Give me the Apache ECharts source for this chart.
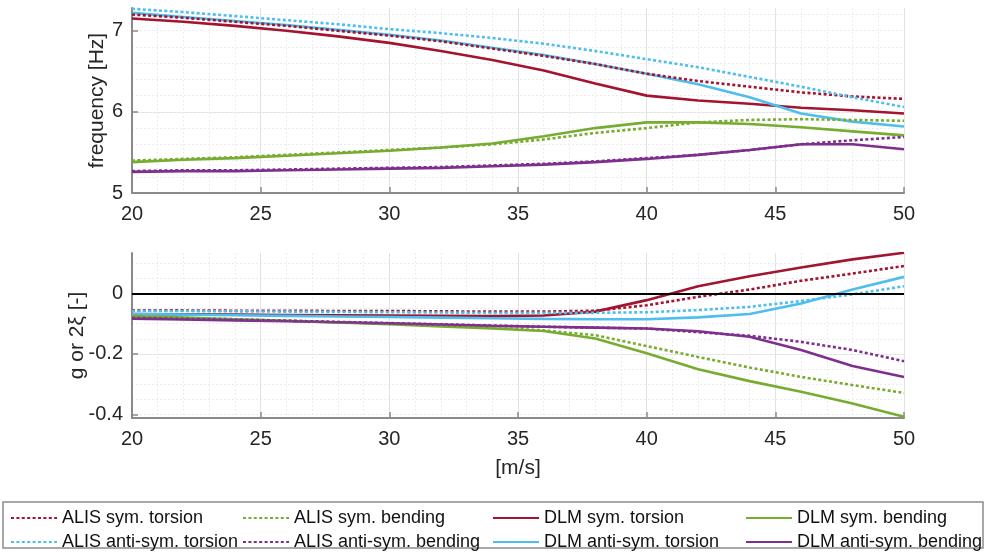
<!DOCTYPE html>
<html>
<head>
<meta charset="utf-8">
<script src="https://cdn.jsdelivr.net/npm/echarts@6/dist/echarts.min.js"></script>
<style>
  html, body { margin: 0; padding: 0; background: #ffffff; }
  #chart { width: 988px; height: 556px; }
</style>
</head>
<body>
<div id="chart"></div>
<script>
// Flight speed [m/s]
const speed = [20, 22, 24, 26, 28, 30, 32, 34, 36, 38, 40, 42, 44, 46, 48, 50];

// Frequency [Hz]
const freqAlisSymTorsion     = [7.20, 7.16, 7.11, 7.06, 7.00, 6.94, 6.87, 6.78, 6.69, 6.59, 6.47, 6.38, 6.31, 6.24, 6.19, 6.16];
const freqAlisAntiTorsion    = [7.27, 7.23, 7.18, 7.13, 7.08, 7.02, 6.97, 6.91, 6.84, 6.75, 6.65, 6.55, 6.43, 6.31, 6.18, 6.06];
const freqAlisSymBending     = [5.40, 5.42, 5.44, 5.47, 5.50, 5.53, 5.56, 5.60, 5.66, 5.74, 5.80, 5.87, 5.90, 5.91, 5.90, 5.89];
const freqAlisAntiBending    = [5.27, 5.28, 5.28, 5.29, 5.30, 5.31, 5.32, 5.34, 5.36, 5.39, 5.43, 5.47, 5.53, 5.60, 5.65, 5.69];
const freqDlmSymTorsion      = [7.15, 7.11, 7.06, 7.00, 6.93, 6.85, 6.75, 6.64, 6.51, 6.35, 6.20, 6.14, 6.10, 6.05, 6.02, 5.98];
const freqDlmAntiTorsion     = [7.22, 7.17, 7.12, 7.07, 7.01, 6.95, 6.88, 6.79, 6.70, 6.59, 6.47, 6.34, 6.18, 5.98, 5.88, 5.82];
const freqDlmSymBending      = [5.38, 5.41, 5.43, 5.46, 5.49, 5.52, 5.56, 5.61, 5.70, 5.80, 5.87, 5.87, 5.85, 5.81, 5.76, 5.71];
const freqDlmAntiBending     = [5.26, 5.27, 5.27, 5.28, 5.29, 5.30, 5.31, 5.33, 5.35, 5.38, 5.42, 5.47, 5.53, 5.60, 5.60, 5.54];

// Damping g or 2ξ [-]
const dampAlisSymTorsion     = [-0.056, -0.056, -0.057, -0.057, -0.058, -0.058, -0.059, -0.060, -0.060, -0.057, -0.039, -0.011, 0.013, 0.042, 0.066, 0.091];
const dampAlisAntiTorsion    = [-0.057, -0.058, -0.059, -0.060, -0.061, -0.062, -0.063, -0.064, -0.064, -0.064, -0.062, -0.055, -0.044, -0.025, -0.003, 0.024];
const dampAlisSymBending     = [-0.077, -0.081, -0.085, -0.090, -0.095, -0.100, -0.106, -0.113, -0.122, -0.138, -0.174, -0.210, -0.245, -0.276, -0.303, -0.329];
const dampAlisAntiBending    = [-0.081, -0.084, -0.087, -0.090, -0.094, -0.098, -0.102, -0.106, -0.110, -0.113, -0.116, -0.128, -0.140, -0.160, -0.187, -0.224];
const dampDlmSymTorsion      = [-0.068, -0.069, -0.070, -0.071, -0.072, -0.073, -0.074, -0.075, -0.073, -0.060, -0.022, 0.024, 0.057, 0.086, 0.113, 0.135];
const dampDlmAntiTorsion     = [-0.068, -0.070, -0.072, -0.074, -0.076, -0.078, -0.080, -0.082, -0.084, -0.085, -0.085, -0.079, -0.068, -0.033, 0.013, 0.055];
const dampDlmSymBending      = [-0.075, -0.080, -0.085, -0.090, -0.096, -0.102, -0.109, -0.116, -0.124, -0.149, -0.198, -0.251, -0.290, -0.325, -0.364, -0.408];
const dampDlmAntiBending     = [-0.083, -0.086, -0.089, -0.092, -0.095, -0.099, -0.103, -0.107, -0.110, -0.113, -0.116, -0.125, -0.143, -0.187, -0.240, -0.276];

// Axis tick labels
const speedTicks = [20, 25, 30, 35, 40, 45, 50];
const freqTicks = [5, 6, 7];
const dampTicks = [-0.4, -0.2, 0];

const names = [
  'ALIS sym. torsion', 'ALIS anti-sym. torsion',
  'ALIS sym. bending', 'ALIS anti-sym. bending',
  'DLM sym. torsion', 'DLM anti-sym. torsion',
  'DLM sym. bending', 'DLM anti-sym. bending'
];

const RED = '#A2142F', BLUE = '#4DBEEE', GREEN = '#77AC30', PURPLE = '#7E2F8E';
const FONT = 'Liberation Sans';
const AXIS_GRAY = '#8a8a8a';
const LABEL_COLOR = '#262626';

const curves = [
  { name: names[0], color: RED,    dotted: true,  freq: freqAlisSymTorsion,  damp: dampAlisSymTorsion },
  { name: names[1], color: BLUE,   dotted: true,  freq: freqAlisAntiTorsion, damp: dampAlisAntiTorsion },
  { name: names[2], color: GREEN,  dotted: true,  freq: freqAlisSymBending,  damp: dampAlisSymBending },
  { name: names[3], color: PURPLE, dotted: true,  freq: freqAlisAntiBending, damp: dampAlisAntiBending },
  { name: names[4], color: RED,    dotted: false, freq: freqDlmSymTorsion,   damp: dampDlmSymTorsion },
  { name: names[5], color: BLUE,   dotted: false, freq: freqDlmAntiTorsion,  damp: dampDlmAntiTorsion },
  { name: names[6], color: GREEN,  dotted: false, freq: freqDlmSymBending,   damp: dampDlmSymBending },
  { name: names[7], color: PURPLE, dotted: false, freq: freqDlmAntiBending,  damp: dampDlmAntiBending }
];

function pairs(values) {
  return speed.map((v, i) => [v, values[i]]);
}

function lineSeries(c, values, xi, yi) {
  return {
    type: 'line',
    name: c.name,
    xAxisIndex: xi,
    yAxisIndex: yi,
    data: pairs(values),
    symbol: 'none',
    smooth: false,
    clip: true,
    lineStyle: {
      color: c.color,
      width: 2.6,
      type: c.dotted ? [3, 2.4] : 'solid'
    },
    itemStyle: { color: c.color },
    z: c.dotted ? 3 : 2
  };
}

function xAxisDef(gridIndex) {
  return {
    type: 'value',
    gridIndex: gridIndex,
    min: 20,
    max: 50,
    interval: 5,
    axisLine: { show: true, onZero: false, lineStyle: { color: AXIS_GRAY, width: 2 } },
    axisTick: { show: true, inside: true, length: 6, lineStyle: { color: AXIS_GRAY, width: 1.5 } },
    axisLabel: { fontSize: 20, color: LABEL_COLOR, margin: 11, fontFamily: FONT },
    splitLine: { show: true, lineStyle: { color: '#e2e2e2', width: 1 } },
    minorTick: { show: false, splitNumber: 5 },
    minorSplitLine: { show: true, lineStyle: { color: '#ececec', width: 1, type: [2, 2] } }
  };
}

function mainYAxis(gridIndex, min, max, splitNumber, ticks, name, nameGap) {
  return {
    type: 'value',
    gridIndex: gridIndex,
    position: 'left',
    min: min,
    max: max,
    splitNumber: splitNumber,
    name: name,
    nameLocation: 'middle',
    nameGap: nameGap,
    nameRotate: 90,
    nameMoveOverlap: false,
    nameTextStyle: { fontSize: 21, color: LABEL_COLOR, fontFamily: FONT },
    axisLine: { show: true, onZero: false, lineStyle: { color: AXIS_GRAY, width: 2 } },
    axisTick: { show: true, inside: true, length: 6, customValues: ticks, lineStyle: { color: AXIS_GRAY, width: 1.5 } },
    axisLabel: { fontSize: 20, color: LABEL_COLOR, margin: 9, fontFamily: FONT, customValues: ticks },
    splitLine: { show: true, showMinLine: false, showMaxLine: false, lineStyle: { color: '#e2e2e2', width: 1 } }
  };
}

function minorYAxis(gridIndex, min, max, splitNumber) {
  return {
    type: 'value',
    gridIndex: gridIndex,
    position: 'left',
    min: min,
    max: max,
    splitNumber: splitNumber,
    axisLine: { show: false },
    axisTick: { show: false },
    axisLabel: { show: false },
    splitLine: { show: true, showMinLine: false, showMaxLine: false, lineStyle: { color: '#ececec', width: 1, type: [2, 2] } },
    z: 0
  };
}

const series = [];
curves.forEach(c => series.push(lineSeries(c, c.freq, 0, 0)));
curves.forEach(c => series.push(lineSeries(c, c.damp, 1, 2)));

// zero reference line in the damping plot
series.push({
  type: 'line',
  xAxisIndex: 1,
  yAxisIndex: 2,
  data: [],
  silent: true,
  markLine: {
    silent: true,
    symbol: 'none',
    label: { show: false },
    lineStyle: { color: '#000000', width: 2, type: 'solid' },
    data: [{ yAxis: 0 }]
  },
  z: 1
});

const legendCols = [
  { left: 10,  items: [names[0], names[1]] },
  { left: 242, items: [names[2], names[3]] },
  { left: 492, items: [names[4], names[5]] },
  { left: 745, items: [names[6], names[7]] }
];

const chart = echarts.init(document.getElementById('chart'), null, { renderer: 'canvas' });

chart.setOption({
  animation: false,
  backgroundColor: '#ffffff',
  textStyle: { fontFamily: FONT },
  grid: [
    { left: 132, right: 84, top: 8, height: 185 },
    { left: 132, right: 84, top: 253, height: 165 }
  ],
  xAxis: [
    xAxisDef(0),
    Object.assign(xAxisDef(1), {
      name: '[m/s]',
      nameLocation: 'middle',
      nameGap: 40,
      nameMoveOverlap: false,
      nameTextStyle: { fontSize: 21, color: LABEL_COLOR, fontFamily: FONT }
    })
  ],
  yAxis: [
    mainYAxis(0, 5, 7.28, 2, freqTicks, 'frequency [Hz]', 24),
    minorYAxis(0, 5, 7.28, 11),
    mainYAxis(1, -0.412, 0.134, 3, dampTicks, 'g or 2ξ [-]', 44),
    minorYAxis(1, -0.412, 0.134, 11)
  ],
  legend: legendCols.map(col => ({
    data: col.items,
    orient: 'vertical',
    left: col.left,
    top: 509,
    padding: 0,
    itemWidth: 46,
    itemHeight: 14,
    itemGap: 6,
    selectedMode: false,
    itemStyle: { opacity: 0, borderWidth: 0 },
    textStyle: { fontSize: 18, color: '#111111', fontFamily: FONT }
  })),
  graphic: [{
    type: 'rect',
    shape: { x: 3, y: 502, width: 980, height: 46 },
    style: { fill: 'none', stroke: '#8c8c8c', lineWidth: 1.5 },
    silent: true
  }],
  series: series
});
</script>
</body>
</html>
